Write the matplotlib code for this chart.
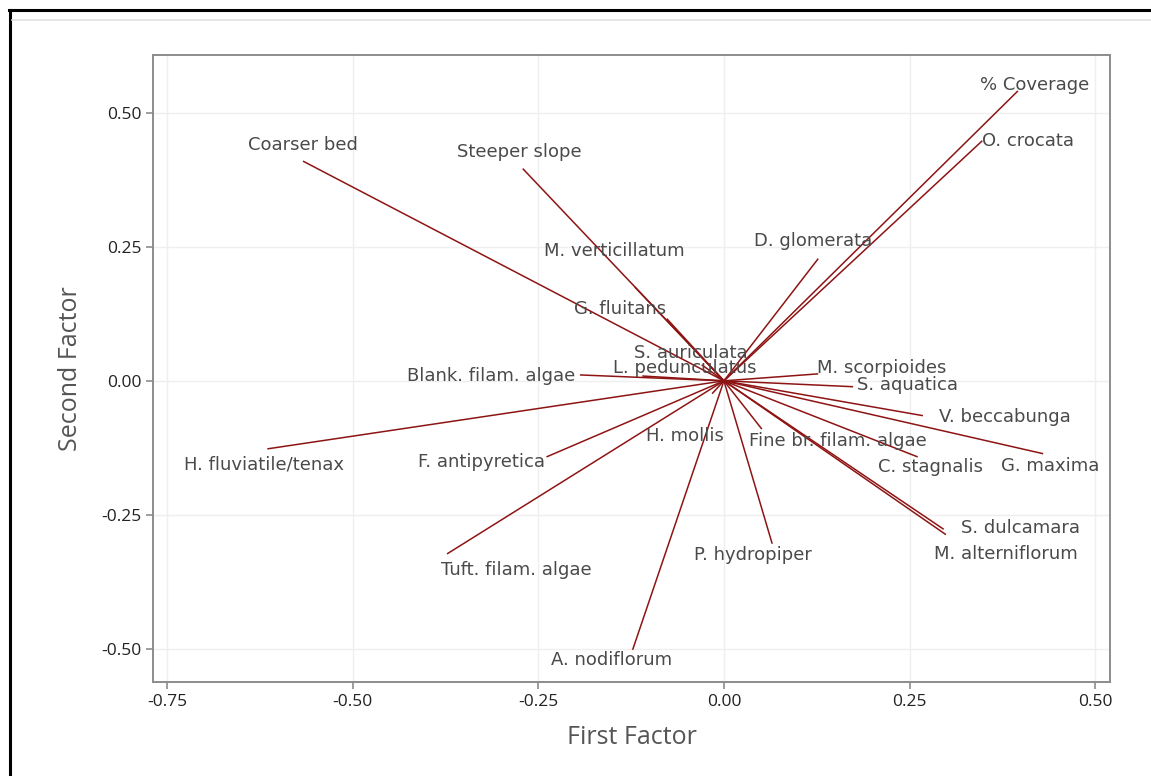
import matplotlib
matplotlib.use("Agg")
import matplotlib.pyplot as plt
from matplotlib.lines import Line2D

# ---- data ----
names = ["% Coverage", "O. crocata", "Coarser bed", "Steeper slope", "M. verticillatum",
         "D. glomerata", "G. fluitans", "S. auriculata", "L. pedunculatus",
         "Blank. filam. algae", "M. scorpioides", "S. aquatica", "V. beccabunga",
         "H. fluviatile/tenax", "F. antipyretica", "H. mollis", "Fine br. filam. algae",
         "C. stagnalis", "G. maxima", "S. dulcamara", "M. alterniflorum",
         "Tuft. filam. algae", "P. hydropiper", "A. nodiflorum"]
factor1 = [0.396, 0.348, -0.567, -0.271, -0.120, 0.127, -0.077, -0.030, -0.110,
           -0.194, 0.127, 0.174, 0.268, -0.615, -0.239, -0.016, 0.051,
           0.261, 0.430, 0.296, 0.299, -0.373, 0.065, -0.123]
factor2 = [0.541, 0.448, 0.410, 0.396, 0.175, 0.228, 0.116, 0.030, 0.009,
           0.011, 0.013, -0.011, -0.065, -0.127, -0.142, -0.024, -0.090,
           -0.142, -0.136, -0.277, -0.287, -0.323, -0.304, -0.502]
# repelled label positions
label_x = [0.419, 0.410, -0.567, -0.275, -0.147, 0.120, -0.140, -0.044, -0.053,
           -0.313, 0.213, 0.247, 0.379, -0.619, -0.326, -0.053, 0.154,
           0.278, 0.439, 0.399, 0.380, -0.279, 0.039, -0.152]
label_y = [0.552, 0.448, 0.440, 0.427, 0.243, 0.261, 0.134, 0.052, 0.024,
           0.009, 0.024, -0.007, -0.067, -0.157, -0.151, -0.103, -0.112,
           -0.160, -0.159, -0.274, -0.323, -0.353, -0.325, -0.521]
ticks = [-0.75, -0.50, -0.25, 0.00, 0.25, 0.50]
yticks = [-0.50, -0.25, 0.00, 0.25, 0.50]

W, H = 1151, 776
fig = plt.figure(figsize=(W / 100, H / 100), dpi=100)
fig.patch.set_facecolor("white")

# outer frame
fig.add_artist(Line2D([9 / W, 1.0], [1 - 9.5 / H, 1 - 9.5 / H], color="black", lw=2.2))
fig.add_artist(Line2D([10 / W, 10 / W], [0, 1 - 9.5 / H], color="black", lw=2.2))
fig.add_artist(Line2D([12 / W, 1.0], [1 - 19.5 / H, 1 - 19.5 / H], color="#e0e0e0", lw=1.2))

ax = fig.add_axes([153 / W, 1 - 682 / H, (1110 - 153) / W, (682 - 55) / H])
ax.set_xlim(-0.769, 0.52)
ax.set_ylim(-0.562, 0.608)

ax.set_xticks(ticks)
ax.set_xticklabels([f"{t:.2f}" for t in ticks])
ax.set_yticks(yticks)
ax.set_yticklabels([f"{t:.2f}" for t in yticks])
ax.grid(True, color="#efefef", lw=1.0)
ax.set_axisbelow(True)
for s in ax.spines.values():
    s.set_color("#8c8c8c")
    s.set_linewidth(1.4)
ax.tick_params(colors="#8c8c8c", length=5, width=1.2, labelcolor="#222222", labelsize=12.5)
for lab in ax.get_xticklabels() + ax.get_yticklabels():
    lab.set_family("Open Sans")

for x, y in zip(factor1, factor2):
    ax.plot([0, x], [0, y], color="#8e1414", lw=1.1, solid_capstyle="butt")

for n, lx, ly in zip(names, label_x, label_y):
    ax.text(lx, ly, n, ha="center", va="center", fontsize=13, color="#4a4a4a",
            family="DejaVu Sans")

ax.set_xlabel("First Factor", fontsize=18, color="#555555", family="Open Sans", labelpad=11)
ax.set_ylabel("Second Factor", fontsize=18, color="#555555", family="Open Sans", labelpad=13)

fig.savefig("out.png", dpi=100)
